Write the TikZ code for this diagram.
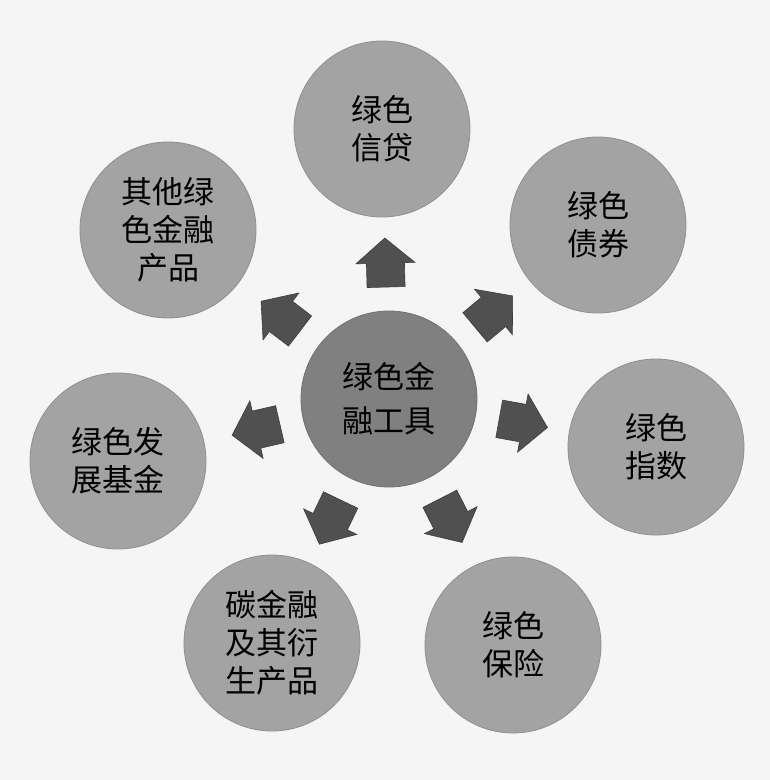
\documentclass[tikz,border=0pt]{standalone}
\usepackage{fontspec}
\newfontfamily\cjk{Noto Sans CJK SC}
\begin{document}
\begin{tikzpicture}[x=1pt,y=-1pt,
  outer/.style={circle, minimum size=176pt, inner sep=0pt, fill=outergray, draw=outeredge, line width=0.8pt, align=center, font=\cjk\fontsize{31}{38}\selectfont},
  core/.style={circle, minimum size=176pt, inner sep=0pt, fill=coregray, draw=coreedge, line width=0.8pt, align=center, font=\cjk\fontsize{31}{44}\selectfont},
  blk/.style={fill=arrowgray, draw=arrowedge, line width=0.6pt, line join=miter}]
\definecolor{outergray}{HTML}{A3A3A3}
\definecolor{outeredge}{HTML}{909090}
\definecolor{coregray}{HTML}{808080}
\definecolor{coreedge}{HTML}{707070}
\definecolor{arrowgray}{HTML}{505050}
\definecolor{arrowedge}{HTML}{3C3C3C}
\definecolor{paper}{HTML}{F5F5F5}
\fill[paper] (0,0) rectangle (770,780);
\useasboundingbox (0,0) rectangle (770,780);
\node[core] (c) at (389,399) {绿色金\\融工具};
\node[outer] (o1) at (382,129) {绿色\\信贷};
\node[outer] (o2) at (598,225) {绿色\\债券};
\node[outer] (o3) at (656,447) {绿色\\指数};
\node[outer] (o4) at (513,645) {绿色\\保险};
\node[outer] (o5) at (272,643) {碳金融\\及其衍\\生产品};
\node[outer] (o6) at (118,461) {绿色发\\展基金};
\node[outer] (o7) at (168,230) {其他绿\\色金融\\产品};
\foreach \ang in {91.5,39.8,-10.2,-63,-115.6,-167,142.6}{
  \draw[blk, shift={(c)}, rotate=\ang]
    (112,-19) -- (136,-19) -- (136,-29.5) -- (161,0) -- (136,29.5) -- (136,19) -- (112,19) -- cycle;
}
\end{tikzpicture}
\end{document}
